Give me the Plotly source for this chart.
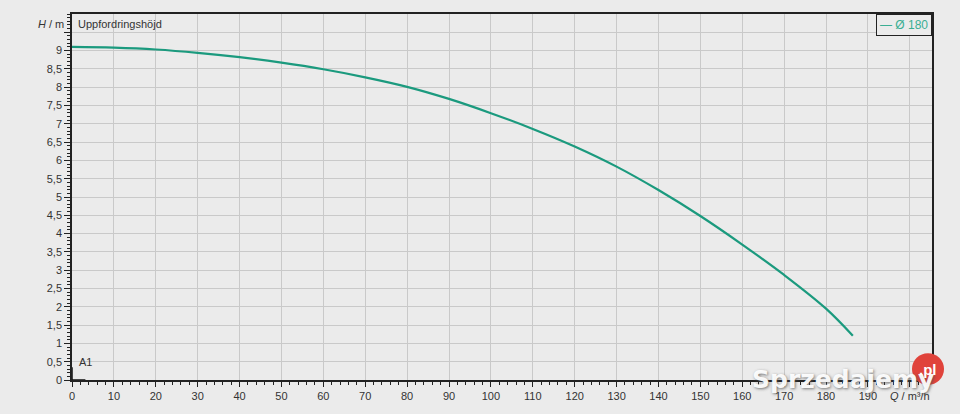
import plotly.graph_objects as go

# pump curve Ø 180
flow_q = [0, 10, 20, 30, 40, 50, 60, 70, 80, 90, 100, 110, 120, 130, 140, 150, 160, 170, 180, 186.4]
head_h = [9.10, 9.08, 9.03, 8.94, 8.82, 8.67, 8.49, 8.27, 8.01, 7.68, 7.29, 6.86, 6.38, 5.83, 5.19, 4.48, 3.70, 2.87, 1.95, 1.21]

y_ticks = [i * 0.5 for i in range(20)]
y_labels = [("%g" % v).replace(".", ",") for v in y_ticks[:-1]] + [""]
x_ticks = list(range(0, 210, 10))
x_labels = [str(v) for v in x_ticks[:-1]] + ["<i>Q</i> / m³/h"]

# small A1 marker at the origin
a1_q = [0, 0, 3.2]
a1_h = [0.35, 0, 0]

CURVE = "#1b9a7e"
BG = "#ebebeb"
INK = "#333333"

fig = go.Figure()
fig.add_trace(go.Scatter(x=flow_q, y=head_h, mode="lines", line=dict(color=CURVE, width=2.2),
                         line_shape="spline", line_smoothing=1.0, showlegend=False))
fig.add_trace(go.Scatter(x=a1_q, y=a1_h, mode="lines", line=dict(color="#111", width=1.5),
                         showlegend=False, cliponaxis=False))

fig.update_layout(
    width=960, height=414,
    paper_bgcolor=BG, plot_bgcolor=BG,
    margin=dict(l=72, r=28, t=13, b=33),
    font=dict(family="Liberation Sans, Arial, sans-serif", size=11, color=INK),
)
fig.update_xaxes(
    range=[0, 205.3], tickvals=x_ticks, ticktext=x_labels,
    showgrid=True, gridcolor="#c9c9c9", gridwidth=1, zeroline=False,
    showline=True, linecolor="#222", linewidth=1.5, mirror=True,
    ticks="outside", ticklen=5, tickcolor="#222",
    minor=dict(dtick=2, ticks="outside", ticklen=3, tickcolor="#222", showgrid=False),
)
fig.update_yaxes(
    range=[0, 10], tickvals=y_ticks, ticktext=y_labels,
    showgrid=True, gridcolor="#c9c9c9", gridwidth=1, zeroline=False,
    showline=True, linecolor="#222", linewidth=1.5, mirror=True,
    ticks="outside", ticklen=6, tickcolor="#222",
    minor=dict(dtick=0.1, ticks="outside", ticklen=3, tickcolor="#222", showgrid=False),
)

fig.add_annotation(x=0, y=9.72, xref="paper", yref="y", text="<i>H</i> / m", showarrow=False,
                   xanchor="right", xshift=-6, font=dict(size=11, color=INK))
fig.add_annotation(x=0, y=9.72, xref="paper", yref="y", text="Uppfordringshöjd", showarrow=False,
                   xanchor="left", xshift=4, font=dict(size=11, color=INK))
fig.add_annotation(x=1.2, y=0.5, xref="x", yref="y", text="A1", showarrow=False,
                   xanchor="left", font=dict(size=11, color=INK))
fig.add_annotation(x=1, y=1, xref="paper", yref="paper", text="— Ø 180", showarrow=False,
                   xanchor="right", yanchor="top", bgcolor=BG, bordercolor="#222", borderwidth=1,
                   borderpad=3, font=dict(size=12, color="#3aae93"))

# watermark
fig.add_annotation(xref="paper", yref="paper", x=(843 - 72) / 860, y=(414 - 33 - 380) / 368,
                   text="<b>Sprzedajemy</b>", showarrow=False,
                   font=dict(family="DejaVu Sans, sans-serif", size=25, color="rgba(255,255,255,0.95)",
                             shadow="1px 1px 3px rgba(80,80,80,0.8)"),
                   xanchor="center", yanchor="middle")
fig.add_shape(type="circle", xref="paper", yref="paper",
              x0=(912 - 72) / 860, x1=(944 - 72) / 860,
              y0=(414 - 33 - 386) / 368, y1=(414 - 33 - 354) / 368,
              fillcolor="#e0433b", line=dict(width=0), layer="above")
fig.add_annotation(xref="paper", yref="paper", x=(928 - 72) / 860, y=(414 - 33 - 370) / 368,
                   text="<b>.pl</b>", showarrow=False, xanchor="center", yanchor="middle",
                   font=dict(size=15, color="white"))

page_css = (
    "var s=document.createElement('style');"
    "s.textContent='html,body{margin:0;padding:0;overflow:hidden;background:%s;}';"
    "document.head.appendChild(s);" % BG
)
fig.write_html("out.html", config={"displayModeBar": False}, post_script=page_css)
